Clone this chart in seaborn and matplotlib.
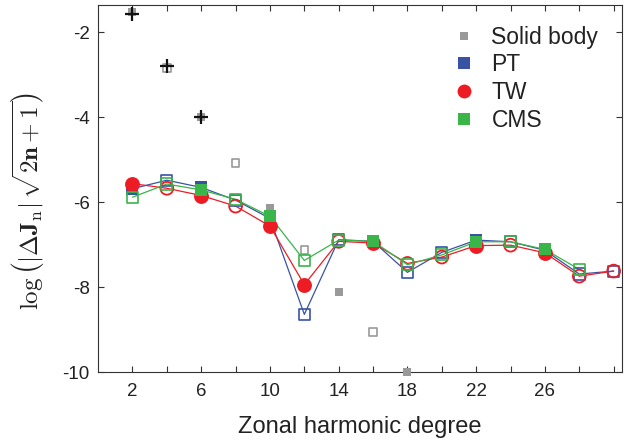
import matplotlib
matplotlib.use("Agg")
import matplotlib.pyplot as plt
from matplotlib.lines import Line2D
import pandas as pd
import seaborn as sns

# Zonal harmonic degrees and model values of log(|dJn| sqrt(2n+1))
degrees = [2, 4, 6, 8, 10, 12, 14, 16, 18, 20, 22, 24, 26, 28, 30]

pt_values = [-5.68, -5.48, -5.65, -5.95, -6.38, -8.64, -6.88, -6.92,
             -7.65, -7.18, -6.89, -6.93, -7.13, -7.69, -7.62]
pt_signs = [1, -1, 1, -1, 1, -1, -1, 1, -1, -1, 1, -1, 1, -1, -1]

tw_values = [-5.56, -5.67, -5.84, -6.09, -6.56, -7.94, -6.92, -6.96,
             -7.44, -7.29, -7.02, -7.01, -7.19, -7.74, -7.62]
tw_signs = [1, -1, 1, -1, 1, 1, -1, 1, -1, -1, 1, -1, 1, -1, -1]

cms_degrees = [2, 4, 6, 8, 10, 12, 14, 16, 18, 20, 22, 24, 26, 28]
cms_values = [-5.88, -5.57, -5.71, -5.93, -6.33, -7.37, -6.89, -6.92,
              -7.47, -7.24, -6.93, -6.93, -7.11, -7.58]
cms_signs = [-1, -1, 1, -1, 1, -1, -1, 1, -1, -1, 1, -1, 1, -1]

solid_degrees = [2, 4, 6, 8, 10, 12, 14, 16, 18]
solid_values = [-1.52, -2.84, -4.00, -5.08, -6.13, -7.13, -8.11, -9.06, -9.99]
solid_signs = [1, -1, 1, -1, 1, -1, 1, -1, 1]

observed_degrees = [2, 4, 6]
observed_values = [-1.57, -2.78, -3.98]

colors = {"Solid body": "#999999", "PT": "#3953A4", "TW": "#ED1C24", "CMS": "#3AB54A"}


def frame(name, deg, vals, signs):
    return pd.DataFrame({"degree": deg, "value": vals, "sign": signs, "model": name})


models = pd.concat([
    frame("PT", degrees, pt_values, pt_signs),
    frame("TW", degrees, tw_values, tw_signs),
    frame("CMS", cms_degrees, cms_values, cms_signs),
], ignore_index=True)
solid = frame("Solid body", solid_degrees, solid_values, solid_signs)
observed = pd.DataFrame({"degree": observed_degrees, "value": observed_values})

sns.set_style("ticks")
plt.rcParams["font.family"] = ["Liberation Sans", "DejaVu Sans"]
plt.rcParams["mathtext.fontset"] = "cm"
plt.rcParams["axes.unicode_minus"] = False

fig = plt.figure(figsize=(6.33, 4.43), dpi=100)
ax = fig.add_axes([0.155, 0.160, 0.828, 0.829])

# connecting lines for the interior models
sns.lineplot(data=models, x="degree", y="value", hue="model",
             hue_order=["PT", "TW", "CMS"], palette=colors, estimator=None,
             sort=False, lw=0.9, legend=False, ax=ax, zorder=2)

marker_style = {
    "Solid body": ("s", 30, 30, 1.2),
    "PT": ("s", 64, 64, 1.2),
    "TW": ("o", 115, 85, 1.3),
    "CMS": ("s", 64, 64, 1.2),
}

z = 3
for name, df in [("Solid body", solid)] + [(m, models[models.model == m]) for m in ["PT", "TW", "CMS"]]:
    mk, s_fill, s_open, lw = marker_style[name]
    c = colors[name]
    pos = df[df.sign > 0]
    neg = df[df.sign < 0]
    sns.scatterplot(data=pos, x="degree", y="value", marker=mk, s=s_fill,
                    color=c, edgecolor=c, linewidth=0, ax=ax, zorder=z,
                    clip_on=False, legend=False)
    sns.scatterplot(data=neg, x="degree", y="value", marker=mk, s=s_open,
                    facecolor="none", edgecolor=c, linewidth=lw, ax=ax,
                    zorder=z, clip_on=False, legend=False)
    z += 1

sns.scatterplot(data=observed, x="degree", y="value", marker="+", s=90,
                color="#111111", linewidth=1.6, ax=ax, zorder=z, legend=False)

ax.set_xlim(0, 30.5)
ax.set_ylim(-10, -1.35)
ax.set_xticks([2, 6, 10, 14, 18, 22, 26])
ax.set_xticks([4, 8, 12, 16, 20, 24, 28, 30], minor=True)
ax.set_yticks([-2, -4, -6, -8, -10])
ax.set_yticklabels(["-2", "-4", "-6", "-8", "-10"])

for sp in ax.spines.values():
    sp.set_color("#333333")
    sp.set_linewidth(0.8)
ax.tick_params(which="both", direction="in", length=4, width=0.8,
               color="#333333", top=True, right=True, labelsize=13.5,
               labelcolor="#222222")
ax.tick_params(axis="x", which="both", pad=8)
ax.tick_params(axis="y", which="both", pad=6)

ax.set_xlabel("Zonal harmonic degree", fontsize=17, color="#222222", labelpad=11)
ax.set_ylabel(r"$\log\left(|\mathbf{\Delta J}_{\mathrm{n}}|\,\sqrt{\mathbf{2n+1}}\right)$",
              fontsize=18, color="#222222")
ax.yaxis.set_label_coords(-0.10, 0.466)

handles = [
    Line2D([], [], ls="none", marker="s", ms=5.5, color=colors["Solid body"], mew=0),
    Line2D([], [], ls="none", marker="s", ms=8, color=colors["PT"], mew=0),
    Line2D([], [], ls="none", marker="o", ms=10, color=colors["TW"], mew=0),
    Line2D([], [], ls="none", marker="s", ms=8, color=colors["CMS"], mew=0),
]
ax.legend(handles, ["Solid body", "PT", "TW", "CMS"], loc="upper left",
          bbox_to_anchor=(0.677, 0.943), frameon=False, fontsize=16.5,
          handlelength=1.0, handletextpad=0.68, labelspacing=0.2,
          borderpad=0, borderaxespad=0, labelcolor="#222222")

fig.savefig("out.png", dpi=100)
